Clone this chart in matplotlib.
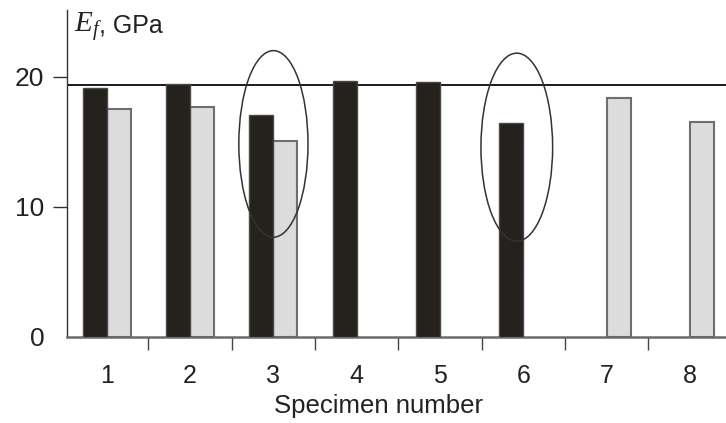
import numpy as np
import matplotlib
matplotlib.use("Agg")
import matplotlib.pyplot as plt
from matplotlib.patches import Ellipse
from matplotlib.ticker import FixedLocator

plt.rcParams['font.family'] = ['Liberation Sans', 'DejaVu Sans']
plt.rcParams['mathtext.fontset'] = 'custom'
plt.rcParams['mathtext.it'] = 'Liberation Serif:italic'
plt.rcParams['mathtext.rm'] = 'Liberation Serif'

# Flexural modulus per specimen, two measurement series (NaN = not measured)
specimens = [1, 2, 3, 4, 5, 6, 7, 8]
series_dark = [19.1, 19.4, 17.05, 19.7, 19.57, 16.46, np.nan, np.nan]
series_light = [17.5, 17.7, 15.05, np.nan, np.nan, np.nan, 18.34, 16.49]
reference_level = 19.36
y_ticks = [0, 10, 20]
# Highlighted specimens: (centre x, centre y, width, height) in data units
highlights = [(3.0, 14.83, 0.83, 14.35), (5.92, 14.58, 0.86, 14.46)]

W, H = 726, 423
fig = plt.figure(figsize=(W / 100, H / 100), dpi=100)
ax_left, ax_bottom_px, ax_top_px = 66.7, 336.7, 10
ax = fig.add_axes([ax_left / W, 1 - ax_bottom_px / H, 1 - ax_left / W,
                   (ax_bottom_px - ax_top_px) / H])

x = np.array(specimens, dtype=float)
bw = 0.288
ax.bar(x, series_dark, width=-bw, align='edge', color='#25221d',
       edgecolor='#4a4844', linewidth=1.0, zorder=3)
ax.bar(x, series_light, width=bw, align='edge', color='#dcdcdc',
       edgecolor='#6e6e6e', linewidth=1.5, zorder=2)

ax.axhline(reference_level, color='#1a1a1a', linewidth=1.4, zorder=1)

for cx, cy, ew, eh in highlights:
    ax.add_patch(Ellipse((cx, cy), ew, eh, fill=False, edgecolor='#333333',
                         linewidth=1.1, zorder=4))

ax.set_xlim(0.52, 8.43)
ax.set_ylim(0, 25.13)

ax.spines['top'].set_visible(False)
ax.spines['right'].set_visible(False)
ax.spines['left'].set_color('#333333')
ax.spines['left'].set_linewidth(1.0)
ax.spines['bottom'].set_color('#6a6a6a')
ax.spines['bottom'].set_linewidth(1.8)

ax.set_xticks(x)
ax.set_xticklabels([str(s) for s in specimens])
ax.xaxis.set_minor_locator(FixedLocator(x[:-1] + 0.5))
ax.tick_params(axis='x', which='major', length=0, pad=20, labelsize=18,
               labelcolor='#222222')
ax.tick_params(axis='x', which='minor', direction='out', length=9.5,
               width=1.0, color='#444444')

ax.set_yticks(y_ticks)
ax.tick_params(axis='y', direction='out', length=10, width=1.0,
               color='#333333', pad=6, labelsize=19, labelcolor='#222222')
ax.yaxis.get_major_ticks()[0].tick1line.set_visible(False)

fig.text(378 / W, 1 - 406 / H, 'Specimen number', fontsize=18.5,
         color='#222222', ha='center', va='center')

# Axis quantity label: italic serif symbol followed by the unit
fig.text(74 / W, 1 - 32 / H, r'$E_f$', fontsize=21, color='#222222',
         ha='left', va='baseline')
fig.text(99 / W, 1 - 32 / H, ', GPa', fontsize=18, color='#222222',
         ha='left', va='baseline')

fig.savefig('out.png', dpi=100, facecolor='white')
